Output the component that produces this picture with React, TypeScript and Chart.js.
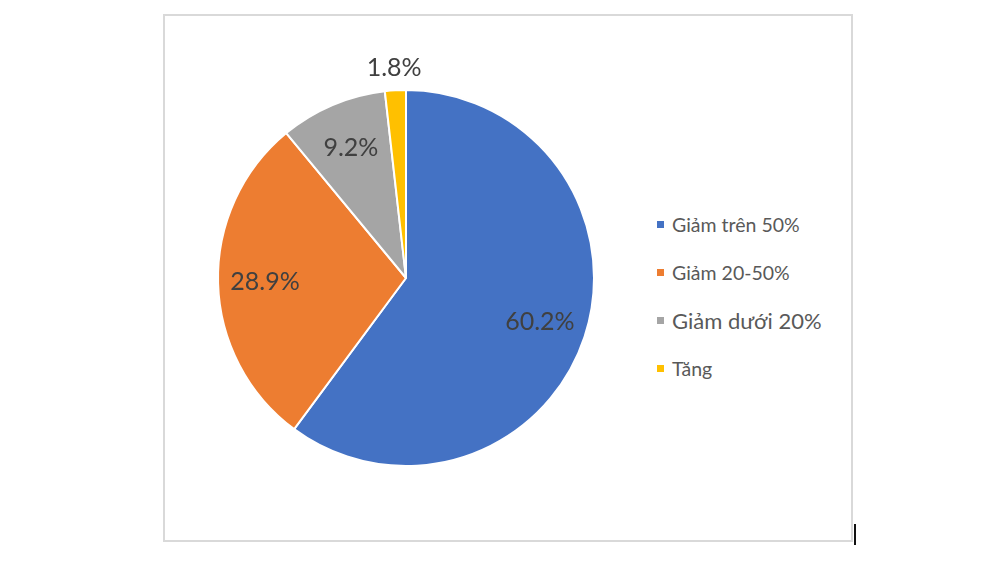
import { useEffect, useRef } from "react";
import { Chart, registerables } from "chart.js";

Chart.register(...registerables);

const categories = ["Giảm trên 50%", "Giảm 20-50%", "Giảm dưới 20%", "Tăng"];
const shares = [60.2, 28.9, 9.2, 1.8];
const sliceColors = ["#4472C4", "#ED7D31", "#A5A5A5", "#FFC000"];
// the third legend entry is rendered a bit larger in the original
const legendFontSizes = [19.5, 19.5, 22, 19.5];

// draws the percent labels inside (or just outside, for tiny slices) each arc
const sliceLabels = {
  id: "sliceLabels",
  afterDatasetsDraw(chart: Chart) {
    const { ctx } = chart;
    const meta = chart.getDatasetMeta(0);
    ctx.save();
    ctx.font = "25px Lato";
    ctx.fillStyle = "#404040";
    ctx.textAlign = "center";
    ctx.textBaseline = "middle";
    meta.data.forEach((arc: any, i: number) => {
      const { x, y, startAngle, endAngle, outerRadius } = arc.getProps(
        ["x", "y", "startAngle", "endAngle", "outerRadius"],
        true
      );
      const mid = (startAngle + endAngle) / 2;
      const f = shares[i] < 5 ? 1.12 : 0.75;
      ctx.fillText(
        `${shares[i].toFixed(1)}%`,
        x + Math.cos(mid) * outerRadius * f,
        y + Math.sin(mid) * outerRadius * f
      );
    });
    ctx.restore();
  },
};

const PieChart = () => {
  const chartRef = useRef<HTMLCanvasElement>(null);
  const chartInstance = useRef<Chart | null>(null);

  useEffect(() => {
    if (!chartRef.current) return;
    if (chartInstance.current) chartInstance.current.destroy();

    chartInstance.current = new Chart(chartRef.current, {
      type: "pie",
      data: {
        labels: categories,
        datasets: [
          {
            data: shares,
            backgroundColor: sliceColors,
            borderColor: "#ffffff",
            borderWidth: 2,
          },
        ],
      },
      options: {
        animation: false,
        responsive: false,
        radius: 188,
        plugins: {
          legend: { display: false },
          tooltip: { enabled: false },
        },
      },
      plugins: [sliceLabels],
    });

    return () => {
      if (chartInstance.current) {
        chartInstance.current.destroy();
        chartInstance.current = null;
      }
    };
  }, []);

  return (
    <canvas
      ref={chartRef}
      width={480}
      height={524}
      style={{ position: "absolute", left: 166, top: 16, width: 480, height: 524 }}
    />
  );
};

const App = () => {
  return (
    <div
      style={{
        position: "absolute",
        left: 0,
        top: 0,
        width: 1000,
        height: 562,
        background: "#ffffff",
        fontFamily: "Lato, sans-serif",
      }}
    >
      <div
        style={{
          position: "absolute",
          left: 163,
          top: 14,
          width: 686,
          height: 524,
          border: "2px solid #d9d9d9",
        }}
      />
      <PieChart />
      {categories.map((c, i) => (
        <div
          key={c}
          style={{
            position: "absolute",
            left: 657,
            top: 210 + i * 48,
            height: 28,
            display: "flex",
            alignItems: "center",
            fontSize: legendFontSizes[i],
            color: "#595959",
            whiteSpace: "nowrap",
          }}
        >
          <span
            style={{
              display: "inline-block",
              width: 7,
              height: 7,
              background: sliceColors[i],
              marginRight: 8,
            }}
          />
          {c}
        </div>
      ))}
      <div
        style={{
          position: "absolute",
          left: 854,
          top: 524,
          width: 2,
          height: 21,
          background: "#111111",
        }}
      />
    </div>
  );
};

export default App;
